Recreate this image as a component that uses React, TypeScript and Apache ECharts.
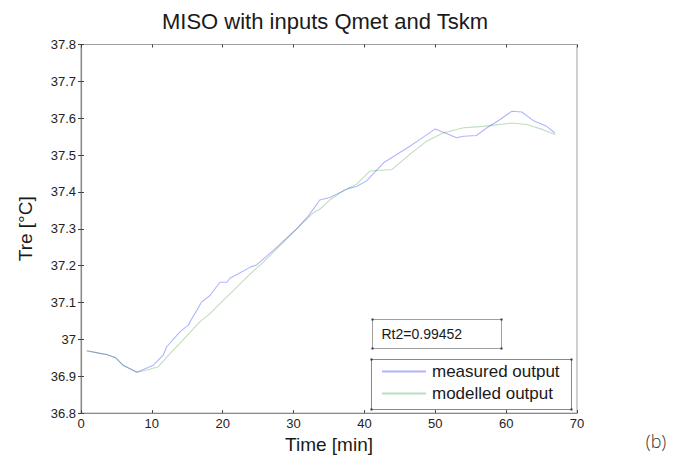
import React, { useEffect, useRef } from "react";
import * as echarts from "echarts";

// Time [min] and Tre [°C]
const measuredTime = [0.8, 2.7, 3.6, 4.9, 6.0, 7.9, 10.2, 11.6, 12.1, 14.0, 15.1, 17.0, 18.2, 19.6, 20.6, 21.0, 22.2, 23.9, 24.8, 27.1, 30.4, 32.1, 33.7, 35.1, 37.7, 38.9, 40.3, 42.7, 46.4, 47.8, 50.0, 51.4, 53.0, 54.0, 55.8, 57.3, 59.1, 60.8, 62.2, 63.8, 65.7, 66.9];
const measuredValues = [36.969, 36.962, 36.959, 36.95, 36.929, 36.911, 36.93, 36.957, 36.98, 37.021, 37.038, 37.101, 37.119, 37.155, 37.155, 37.166, 37.178, 37.196, 37.202, 37.241, 37.299, 37.335, 37.378, 37.385, 37.409, 37.415, 37.43, 37.479, 37.524, 37.542, 37.571, 37.56, 37.547, 37.551, 37.553, 37.574, 37.596, 37.619, 37.617, 37.594, 37.578, 37.56];

const modelledTime = [0.8, 2.7, 3.6, 4.9, 6.0, 7.9, 9.3, 10.9, 12.6, 14.9, 16.8, 18.2, 19.6, 22.0, 23.4, 25.7, 29.0, 30.4, 32.8, 33.7, 35.1, 37.0, 38.9, 40.8, 43.9, 46.4, 48.8, 51.1, 54.0, 56.8, 60.8, 62.9, 65.2, 66.9];
const modelledValues = [36.969, 36.962, 36.959, 36.95, 36.929, 36.911, 36.917, 36.926, 36.962, 37.009, 37.048, 37.07, 37.097, 37.142, 37.169, 37.209, 37.272, 37.299, 37.344, 37.353, 37.378, 37.403, 37.421, 37.457, 37.461, 37.502, 37.538, 37.56, 37.574, 37.578, 37.587, 37.583, 37.569, 37.556];

const seriesNames = ["measured output", "modelled output"];
const titleText = "MISO with inputs Qmet and Tskm";
const xName = "Time [min]";
const yName = "Tre [°C]";
const fitText = "Rt2=0.99452";
const panelLabel = "(b)";

const FONT = "'Liberation Sans', Arial, Helvetica, sans-serif";

export default function App() {
  const ref = useRef<HTMLDivElement>(null);
  useEffect(() => {
    if (!ref.current) return;
    const chart = echarts.init(ref.current, null, { renderer: "svg" });
    const gridLeft = 81, gridTop = 44.5, gridRight = 577, gridBottom = 415;
    const axisLineColor = "#8a8a8a";
    const tickColor = "#444";
    const hiddenAxisCommon = {
      axisLabel: { show: false },
      axisLine: { show: false },
      splitLine: { show: false },
      axisTick: { show: true, inside: true, length: 3, lineStyle: { color: tickColor, width: 1 } },
    };
    const corner = (x: number, y: number) => ({
      type: "rect", z: 10, shape: { x: x - 1, y: y - 1, width: 2, height: 2 }, style: { fill: "#333" },
    });
    chart.setOption({
      animation: false,
      backgroundColor: "#fff",
      textStyle: { fontFamily: FONT },
      grid: {
        left: gridLeft, top: gridTop, width: gridRight - gridLeft, height: gridBottom - gridTop,
        show: true, borderColor: "#a0a0a0", borderWidth: 1, backgroundColor: "transparent",
      },
      xAxis: [
        {
          type: "value", min: 0, max: 70, interval: 10,
          name: xName, nameLocation: "middle", nameGap: 19,
          nameTextStyle: { fontFamily: FONT, fontSize: 19, color: "#1a1a1a" },
          axisLine: { show: true, lineStyle: { color: axisLineColor, width: 1.2 } },
          axisTick: { show: true, inside: true, length: 3, lineStyle: { color: tickColor, width: 1 } },
          axisLabel: { fontFamily: FONT, fontSize: 13, color: "#222", margin: 4 },
          splitLine: { show: false },
        },
        { type: "value", min: 0, max: 70, interval: 10, position: "top", ...hiddenAxisCommon },
      ],
      yAxis: [
        {
          type: "value", min: 36.8, max: 37.8, interval: 0.1,
          name: yName, nameLocation: "middle", nameGap: 46, nameRotate: 90,
          nameTextStyle: { fontFamily: FONT, fontSize: 19, color: "#1a1a1a" },
          axisLine: { show: true, lineStyle: { color: axisLineColor, width: 1.2 } },
          axisTick: { show: true, inside: true, length: 3, lineStyle: { color: tickColor, width: 1 } },
          axisLabel: {
            fontFamily: FONT, fontSize: 13, color: "#222", margin: 5,
            formatter: (v: number) => String(+v.toFixed(1)),
          },
          splitLine: { show: false },
        },
        { type: "value", min: 36.8, max: 37.8, interval: 0.1, position: "right", ...hiddenAxisCommon },
      ],
      legend: {
        show: true,
        orient: "vertical",
        left: 381, top: 363,
        padding: 0,
        itemWidth: 44, itemHeight: 14, itemGap: 5,
        itemStyle: { opacity: 0 },
        textStyle: { fontFamily: FONT, fontSize: 17, lineHeight: 17, color: "#1a1a1a", padding: [0, 0, 0, 1] },
        data: seriesNames,
        z: 6,
      },
      series: [
        {
          name: seriesNames[0], type: "line", symbol: "none", xAxisIndex: 0, yAxisIndex: 0,
          lineStyle: { color: "rgba(0,0,255,0.3)", width: 1.1 },
          itemStyle: { color: "rgba(0,0,255,0.3)" },
          data: measuredTime.map((t, i) => [t, measuredValues[i]]),
        },
        {
          name: seriesNames[1], type: "line", symbol: "none", xAxisIndex: 0, yAxisIndex: 0,
          lineStyle: { color: "rgba(0,128,0,0.26)", width: 1.1 },
          itemStyle: { color: "rgba(0,128,0,0.26)" },
          data: modelledTime.map((t, i) => [t, modelledValues[i]]),
        },
      ],
      graphic: [
        {
          type: "text", x: 325, y: 21, z: 10,
          style: { text: titleText, fontFamily: FONT, fontSize: 22, fill: "#1a1a1a", align: "center", verticalAlign: "middle" },
        },
        {
          type: "rect", z: 5, shape: { x: 372.5, y: 319.5, width: 129, height: 29 },
          style: { fill: "#fff", stroke: "#a0a0a0", lineWidth: 1 },
        },
        corner(372.5, 319.5), corner(501.5, 319.5), corner(372.5, 348.5), corner(501.5, 348.5),
        {
          type: "text", x: 381.5, y: 334, z: 10,
          style: { text: fitText, fontFamily: FONT, fontSize: 14, fill: "#1a1a1a", align: "left", verticalAlign: "middle" },
        },
        {
          type: "rect", z: 5, shape: { x: 371.5, y: 359.5, width: 200, height: 50 },
          style: { fill: "#fff", stroke: "#8a8a8a", lineWidth: 1 },
        },
        corner(371.5, 359.5), corner(571.5, 359.5), corner(371.5, 409.5), corner(571.5, 409.5),
        {
          type: "text", x: 656, y: 441, z: 10,
          style: { text: panelLabel, fontFamily: "'Open Sans', 'Noto Sans', sans-serif", fontSize: 18, fontWeight: 300, fill: "#333", align: "center", verticalAlign: "middle" },
        },
      ],
    });
    return () => chart.dispose();
  }, []);
  return (
    <div
      ref={ref}
      style={{ position: "fixed", left: 0, top: 0, width: 700, height: 459, background: "#fff" }}
    />
  );
}
